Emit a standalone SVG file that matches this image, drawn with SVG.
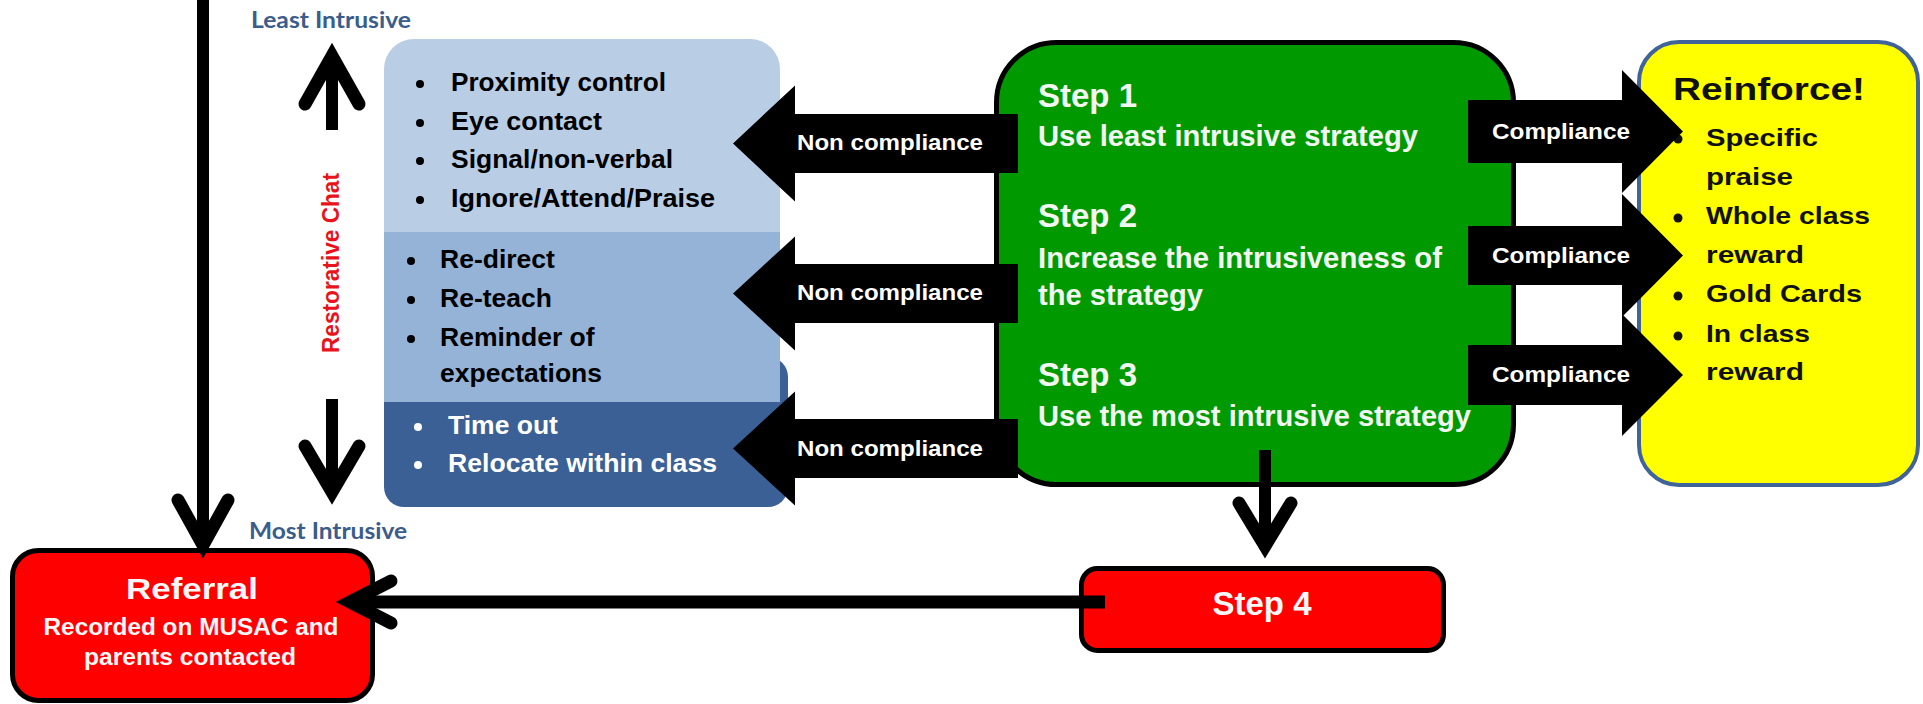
<svg xmlns="http://www.w3.org/2000/svg" width="1923" height="704" viewBox="0 0 1923 704">
<defs>
<style>
text{font-family:"Liberation Sans",Arial,sans-serif;font-weight:bold}
.list{font-size:26.5px;fill:#000}
.listw{font-size:26.5px;fill:#fff}
.lab{font-size:22px;fill:#fff}
.step{font-size:33px;fill:#f2f7f2}
.sub{font-size:29px;fill:#f2f7f2}
.rein{font-size:24px;fill:#111}
.ref{fill:#f7f7f7}
.intr{font-family:Lato,"Liberation Sans",sans-serif;font-size:22px;fill:#3a5d8c}
.line{stroke:#000;stroke-width:12;fill:none}
.chev{stroke:#000;stroke-width:13;fill:none;stroke-linecap:round;stroke-linejoin:miter}
.blk{fill:#000}
</style>
</defs>
<rect width="1923" height="704" fill="#fff"/>

<g id="scale">
  <text class="intr" x="251" y="28" textLength="160" lengthAdjust="spacingAndGlyphs">Least Intrusive</text>
  <text class="intr" x="249" y="539" textLength="158" lengthAdjust="spacingAndGlyphs">Most Intrusive</text>
  <text transform="translate(339,263) rotate(-90)" text-anchor="middle" font-size="24" fill="#e8131b" textLength="180" lengthAdjust="spacingAndGlyphs">Restorative Chat</text>
</g>

<g id="strategies">
  <rect x="384" y="357" width="404" height="150" rx="20" fill="#3a6096"/>
  <path d="M384,232 V69 A30,30 0 0 1 414,39 H750 A30,30 0 0 1 780,69 V232 Z" fill="#b9cde5"/>
  <rect x="384" y="232" width="396" height="170" fill="#95b3d7"/>
  <g class="blk">
    <circle cx="420" cy="84" r="4"/>
    <circle cx="420" cy="123" r="4"/>
    <circle cx="420" cy="161" r="4"/>
    <circle cx="420" cy="200" r="4"/>
    <circle cx="411" cy="261" r="4"/>
    <circle cx="411" cy="300" r="4"/>
    <circle cx="411" cy="339" r="4"/>
  </g>
  <circle cx="418" cy="427" r="4" fill="#fff"/>
  <circle cx="418" cy="465" r="4" fill="#fff"/>
  <text class="list" x="451" y="91" textLength="215" lengthAdjust="spacingAndGlyphs">Proximity control</text>
  <text class="list" x="451" y="130" textLength="151" lengthAdjust="spacingAndGlyphs">Eye contact</text>
  <text class="list" x="451" y="168" textLength="222" lengthAdjust="spacingAndGlyphs">Signal/non-verbal</text>
  <text class="list" x="451" y="207" textLength="264" lengthAdjust="spacingAndGlyphs">Ignore/Attend/Praise</text>
  <text class="list" x="440" y="268">Re-direct</text>
  <text class="list" x="440" y="307">Re-teach</text>
  <text class="list" x="440" y="346">Reminder of</text>
  <text class="list" x="440" y="382">expectations</text>
  <text class="listw" x="448" y="434">Time out</text>
  <text class="listw" x="448" y="472" textLength="269" lengthAdjust="spacingAndGlyphs">Relocate within class</text>
</g>

<g id="steps">
  <rect x="996.5" y="42.5" width="517" height="442" rx="60" fill="#009900" stroke="#000" stroke-width="5"/>
  <text class="step" x="1038" y="107">Step 1</text>
  <text class="sub" x="1038" y="146" textLength="380" lengthAdjust="spacingAndGlyphs">Use least intrusive strategy</text>
  <text class="step" x="1038" y="227">Step 2</text>
  <text class="sub" x="1038" y="268" textLength="404" lengthAdjust="spacingAndGlyphs">Increase the intrusiveness of</text>
  <text class="sub" x="1038" y="305" textLength="165" lengthAdjust="spacingAndGlyphs">the strategy</text>
  <text class="step" x="1038" y="386">Step 3</text>
  <text class="sub" x="1038" y="426" textLength="433" lengthAdjust="spacingAndGlyphs">Use the most intrusive strategy</text>
</g>

<g id="reinforce">
  <rect x="1639" y="42" width="279" height="443" rx="40" fill="#ffff00" stroke="#40649a" stroke-width="4"/>
  <text x="1673" y="100" font-size="31" fill="#111" textLength="192" lengthAdjust="spacingAndGlyphs">Reinforce!</text>
  <g fill="#111">
    <circle cx="1678" cy="139" r="4.5"/>
    <circle cx="1678" cy="218" r="4.5"/>
    <circle cx="1678" cy="296" r="4.5"/>
    <circle cx="1678" cy="336" r="4.5"/>
  </g>
  <text class="rein" x="1706" y="146" textLength="112" lengthAdjust="spacingAndGlyphs">Specific</text>
  <text class="rein" x="1706" y="185" textLength="87" lengthAdjust="spacingAndGlyphs">praise</text>
  <text class="rein" x="1706" y="224" textLength="164" lengthAdjust="spacingAndGlyphs">Whole class</text>
  <text class="rein" x="1706" y="263" textLength="98" lengthAdjust="spacingAndGlyphs">reward</text>
  <text class="rein" x="1706" y="302" textLength="156" lengthAdjust="spacingAndGlyphs">Gold Cards</text>
  <text class="rein" x="1706" y="342" textLength="104" lengthAdjust="spacingAndGlyphs">In class</text>
  <text class="rein" x="1706" y="380" textLength="98" lengthAdjust="spacingAndGlyphs">reward</text>
</g>

<g id="step4">
  <rect x="1081.5" y="568.5" width="362" height="82" rx="16" fill="#ff0000" stroke="#000" stroke-width="5"/>
  <text x="1262" y="615" text-anchor="middle" font-size="33" fill="#f7f7f7">Step 4</text>
</g>

<g id="referral">
  <rect x="12.5" y="550.5" width="360" height="150" rx="26" fill="#ff0000" stroke="#000" stroke-width="5"/>
  <text class="ref" x="192" y="599" text-anchor="middle" font-size="30" textLength="132" lengthAdjust="spacingAndGlyphs">Referral</text>
  <text class="ref" x="191" y="635" text-anchor="middle" font-size="24" textLength="295" lengthAdjust="spacingAndGlyphs">Recorded on MUSAC and</text>
  <text class="ref" x="190" y="665" text-anchor="middle" font-size="24" textLength="212" lengthAdjust="spacingAndGlyphs">parents contacted</text>
</g>

<g id="connectors">
  <!-- intrusiveness scale arrows -->
  <line class="line" x1="332" y1="60" x2="332" y2="130"/>
  <polyline class="chev" points="305,104 332,56 359,104"/>
  <line class="line" x1="332" y1="399" x2="332" y2="488"/>
  <polyline class="chev" points="305,446 332,492 359,446"/>
  <!-- top line into referral -->
  <line class="line" x1="203" y1="0" x2="203" y2="540"/>
  <polyline class="chev" points="178,500 203,545 228,500"/>
  <!-- step 3 to step 4 -->
  <line class="line" x1="1265" y1="450" x2="1265" y2="542"/>
  <polyline class="chev" points="1239,503 1265,546 1291,503"/>
  <!-- step 4 to referral -->
  <line stroke="#000" stroke-width="13" x1="356" y1="602" x2="1105" y2="602"/>
  <polyline class="chev" points="391,581 350,602 391,623"/>
  <!-- non compliance arrows -->
  <polygon class="blk" points="733,143.5 795,85.5 795,114 1018,114 1018,173 795,173 795,201.5"/>
  <polygon class="blk" points="733,293.5 795,236.5 795,264 1018,264 1018,323 795,323 795,350.5"/>
  <polygon class="blk" points="733,448.5 795,391.5 795,419 1018,419 1018,478 795,478 795,505.5"/>
  <text class="lab" x="797" y="150" textLength="186" lengthAdjust="spacingAndGlyphs">Non compliance</text>
  <text class="lab" x="797" y="300" textLength="186" lengthAdjust="spacingAndGlyphs">Non compliance</text>
  <text class="lab" x="797" y="456" textLength="186" lengthAdjust="spacingAndGlyphs">Non compliance</text>
  <!-- compliance arrows -->
  <polygon class="blk" points="1468,100 1622,100 1622,70 1683,131.5 1622,193 1622,163 1468,163"/>
  <polygon class="blk" points="1468,226 1622,226 1622,194 1683,255.5 1622,317 1622,285 1468,285"/>
  <polygon class="blk" points="1468,345 1622,345 1622,314 1683,375 1622,436 1622,405 1468,405"/>
  <text class="lab" x="1492" y="139" textLength="138" lengthAdjust="spacingAndGlyphs">Compliance</text>
  <text class="lab" x="1492" y="263" textLength="138" lengthAdjust="spacingAndGlyphs">Compliance</text>
  <text class="lab" x="1492" y="382" textLength="138" lengthAdjust="spacingAndGlyphs">Compliance</text>
</g>
</svg>
